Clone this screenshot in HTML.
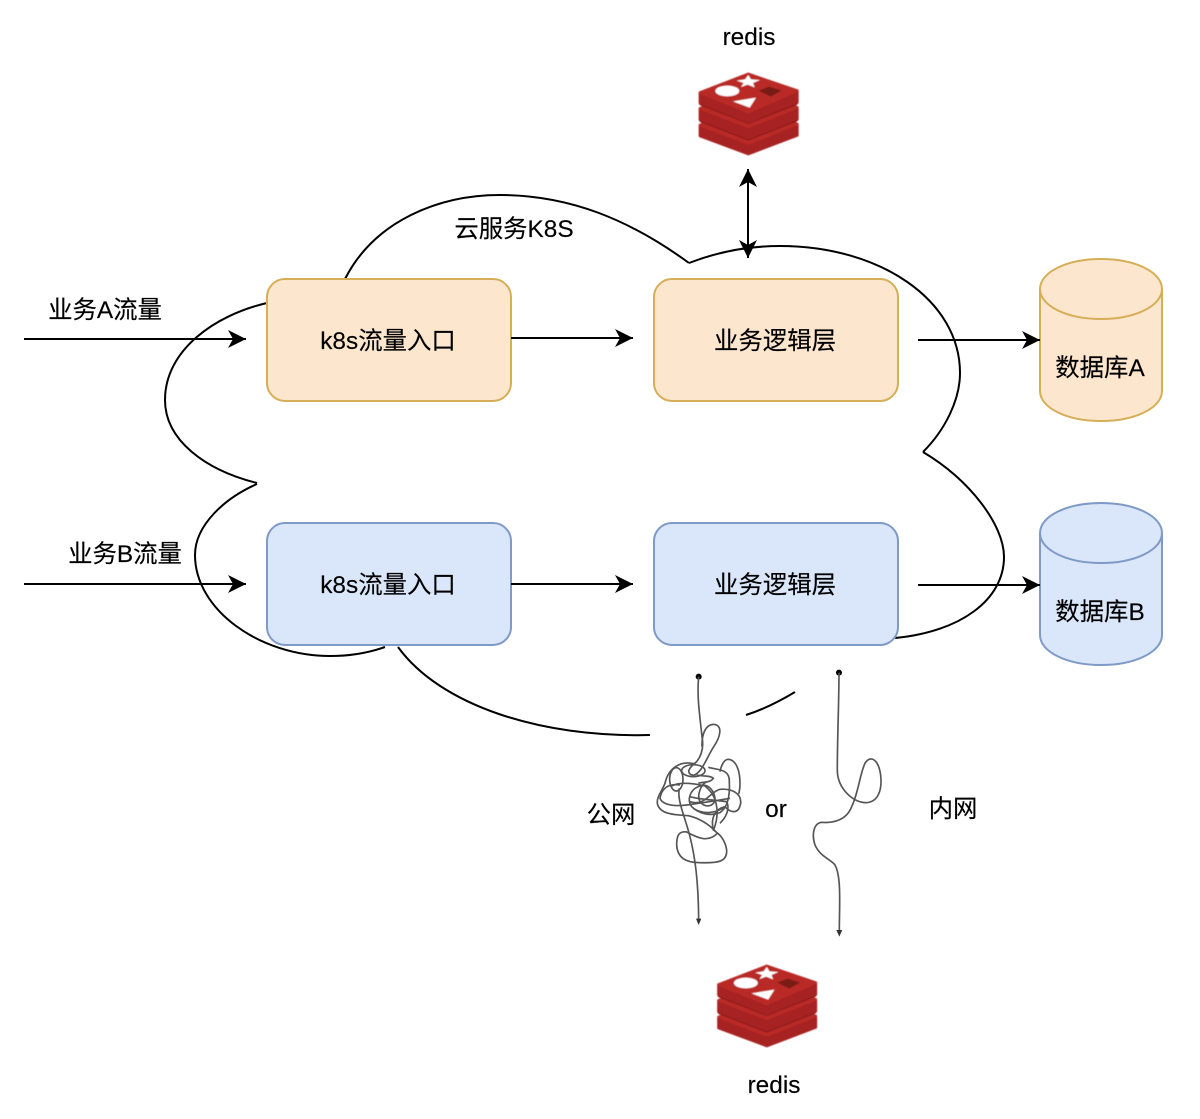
<!DOCTYPE html>
<html><head><meta charset="utf-8"><style>
html,body{margin:0;padding:0;background:#fff}
svg{display:block}
text{font-family:"Liberation Sans","Noto Sans CJK SC",sans-serif;font-size:24.4px;fill:#000;text-anchor:middle;stroke:#000;stroke-width:.15px}
.c{fill:none;stroke:#000;stroke-width:2}
.l{fill:none;stroke:#000;stroke-width:2}
</style></head><body>
<svg width="1200" height="1119" viewBox="0 0 1200 1119" xmlns="http://www.w3.org/2000/svg">
<defs>
<filter id="bl" x="-5%" y="-5%" width="110%" height="110%"><feGaussianBlur stdDeviation="1.2"/></filter>
<marker id="a" markerUnits="userSpaceOnUse" markerWidth="20" markerHeight="20" refX="18" refY="9" orient="auto"><path d="M0 0L18 9L0 18L5 9Z" fill="#000"/></marker>
<marker id="b" markerUnits="userSpaceOnUse" markerWidth="20" markerHeight="20" refX="18" refY="9" orient="auto-start-reverse"><path d="M0 0L18 9L0 18L5 9Z" fill="#000"/></marker>
<g id="redis" filter="url(#bl)">
<g stroke-linejoin="round" stroke-width="8">
<path d="M60 198L205 142L352 195V226L205 282L60 228Z" fill="#a72422" stroke="#a72422"/>
<path d="M60 195L205 140L352 192L205 250Z" fill="#b92a27" stroke="#b92a27"/>
<path d="M60 148L205 92L352 145V178L205 234L60 180Z" fill="#a72422" stroke="#a72422"/>
<path d="M60 145L205 90L352 142L205 200Z" fill="#b92a27" stroke="#b92a27"/>
<path d="M60 98L205 42L352 95V128L205 182L60 130Z" fill="#a72422" stroke="#a72422"/>
<path d="M60 98L205 42L352 92L205 156Z" fill="#b92a27" stroke="#b92a27"/>
</g>
<path d="M60 134L205 190L352 132" fill="none" stroke="#8f1c1a" stroke-width="4"/>
<path d="M60 184L205 240L352 182" fill="none" stroke="#8f1c1a" stroke-width="4"/>
<ellipse cx="142" cy="93" rx="36" ry="16" fill="#fff"/>
<path d="M205 45L213 58L240 60L219 69L224 82L203 74L183 81L191 69L170 62L195 58Z" fill="#fff"/>
<path d="M236 92L268 80L305 92L272 110Z" fill="#7a1a18"/>
<path d="M159 124L228 113L209 143Z" fill="#fff"/>
</g>
</defs>

<!-- cloud -->
<path class="c" d="M345 279C375 220 440 195 500 195C570 195 630 220 689 263"/>
<path class="c" d="M689 263C720 251 750 246 780 246C880 246 960 300 960 373C960 400 945 430 923 452"/>
<path class="c" d="M923 452C970 480 1004 525 1004 557C1004 600 960 632 895 638"/>
<path class="c" d="M746 715C765 709 780 701 795 692"/>
<path class="c" d="M398 647C440 705 540 738 650 735"/>
<path class="c" d="M385 647C365 654 345 656 330 656C260 656 195 610 195 555C195 525 225 498 257 484"/>
<path class="c" d="M257 483C205 470 165 440 165 400C165 350 215 315 267 303"/>

<!-- boxes -->
<rect x="267" y="279" width="244" height="122" rx="18" fill="#fce6cd" stroke="#d6ae58" stroke-width="2"/>
<rect x="654" y="279" width="244" height="122" rx="18" fill="#fce6cd" stroke="#d6ae58" stroke-width="2"/>
<rect x="267" y="523" width="244" height="122" rx="18" fill="#dae6fa" stroke="#7f9ac6" stroke-width="2"/>
<rect x="654" y="523" width="244" height="122" rx="18" fill="#dae6fa" stroke="#7f9ac6" stroke-width="2"/>

<!-- cylinders -->
<path d="M1040 289C1040 272 1067 259 1101 259C1135 259 1162 272 1162 289V391C1162 408 1135 421 1101 421C1067 421 1040 408 1040 391Z" fill="#fce6cd" stroke="#d6ae58" stroke-width="2"/>
<path d="M1040 289C1040 306 1067 319 1101 319C1135 319 1162 306 1162 289" fill="none" stroke="#d6ae58" stroke-width="2"/>
<path d="M1040 533C1040 516 1067 503 1101 503C1135 503 1162 516 1162 533V635C1162 652 1135 665 1101 665C1067 665 1040 652 1040 635Z" fill="#dae6fa" stroke="#7f9ac6" stroke-width="2"/>
<path d="M1040 533C1040 550 1067 563 1101 563C1135 563 1162 550 1162 533" fill="none" stroke="#7f9ac6" stroke-width="2"/>

<!-- arrows -->
<path class="l" d="M24 339H246" marker-end="url(#a)"/>
<path class="l" d="M511 338H633" marker-end="url(#a)"/>
<path class="l" d="M918 340H1040" marker-end="url(#a)"/>
<path class="l" d="M24 584H246" marker-end="url(#a)"/>
<path class="l" d="M511 584H633" marker-end="url(#a)"/>
<path class="l" d="M918 585H1040" marker-end="url(#a)"/>
<path class="l" d="M748 169V258" marker-start="url(#b)" marker-end="url(#b)"/>

<!-- labels -->
<text x="388" y="349">k8s流量入口</text>
<text x="775" y="349">业务逻辑层</text>
<text x="388" y="593">k8s流量入口</text>
<text x="775" y="593">业务逻辑层</text>
<text x="1100" y="376">数据库A</text>
<text x="1100" y="620">数据库B</text>
<text x="105" y="318">业务A流量</text>
<text x="125" y="562">业务B流量</text>
<text x="514" y="237">云服务K8S</text>
<text x="749" y="45">redis</text>
<text x="774" y="1093">redis</text>
<text x="611" y="823">公网</text>
<text x="776" y="817">or</text>
<text x="953" y="817">内网</text>

<use href="#redis" transform="translate(680 60) scale(.3333)"/>
<use href="#redis" transform="translate(698.5 952) scale(.3333)"/>

<!-- scribbles -->
<g transform="translate(630 660) scale(.3333)">
<circle cx="206" cy="50" r="9" fill="#000"/>
<g fill="none" stroke="#555" stroke-width="5">
<path d="M206 50C200 110 210 170 216 230C222 262 216 285 200 305C178 322 165 340 190 346C215 340 232 290 250 262C272 230 280 195 250 193C225 195 215 225 216 260"/>
<path d="M195 312C150 300 115 325 105 370C95 395 80 410 82 430C88 462 130 465 175 467C210 475 240 495 262 520C235 548 205 535 170 516C145 512 140 530 140 555C142 592 165 608 210 608C265 610 292 605 290 570C285 535 265 520 250 510C240 470 260 445 285 440C298 455 325 468 332 430C335 400 305 385 270 388C240 395 225 440 180 425"/>
<ellipse cx="139" cy="358" rx="20" ry="35"/>
<ellipse cx="190" cy="332" rx="35" ry="18"/>
<path d="M235 322C260 330 300 325 298 365C300 400 295 440 270 458C240 470 205 460 185 440C170 420 180 390 205 380C235 365 255 395 255 420C250 440 225 445 210 425C200 405 212 375 230 365"/>
<path d="M150 375C115 370 95 385 90 415C100 440 150 440 190 432C225 428 270 420 300 415"/>
<path d="M125 378C150 365 190 370 225 378C245 395 255 410 260 440C265 470 255 500 250 512"/>
<path d="M180 410C215 420 260 420 290 425C300 445 290 470 270 490"/>
<path d="M190 445C220 465 260 460 285 440"/>
<path d="M270 335C275 310 285 298 295 298C320 300 330 335 330 370C330 385 328 395 326 402"/>
<path d="M200 345C215 350 240 345 250 355C240 370 215 365 205 370"/>
<path d="M148 385C140 420 165 470 180 530C195 590 205 660 206 780"/>
</g>
<path d="M198 776H214L206 795Z" fill="#333"/>
<circle cx="627" cy="38" r="9" fill="#000"/>
<path fill="none" stroke="#555" stroke-width="5" d="M627 38C627 130 622 230 622 330C622 385 670 430 710 428C745 425 757 390 752 345C745 295 720 285 705 310C690 340 685 400 665 440C650 480 610 490 575 487C550 490 545 525 555 555C570 590 605 600 615 615C635 650 628 740 628 815"/>
<path d="M619 810H637L628 830Z" fill="#333"/>
</g>
</svg>
</body></html>
